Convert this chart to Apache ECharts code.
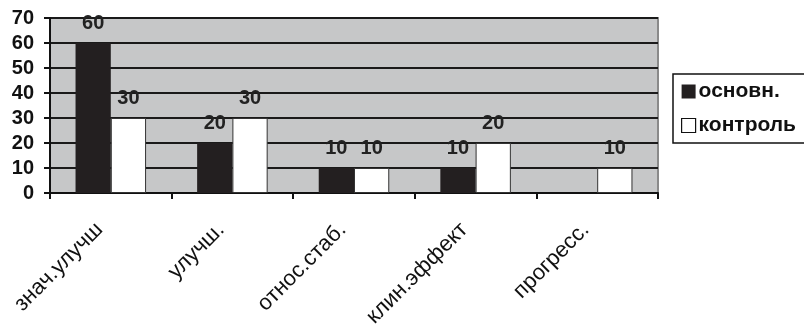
<!DOCTYPE html>
<html>
<head>
<meta charset="utf-8">
<script src="https://cdn.jsdelivr.net/npm/echarts@6/dist/echarts.min.js"></script>
<style>
  html, body { margin: 0; padding: 0; background: #ffffff; }
  #chart { width: 804px; height: 328px; }
</style>
</head>
<body>
<div id="chart"></div>
<script>
// Outcome categories and percentages per group
const categories = ['знач.улучш', 'улучш.', 'относ.стаб.', 'клин.эффект', 'прогресс.'];
const mainGroup = [60, 20, 10, 10, 0];
const controlGroup = [30, 30, 10, 20, 10];
const seriesNames = ['основн.', 'контроль'];

const font = '"Liberation Sans", Arial, sans-serif';

const valueLabel = {
  show: true,
  position: 'top',
  distance: 10,
  fontFamily: font,
  fontSize: 20,
  fontWeight: 'bold',
  color: '#222',
  formatter: p => (p.value ? String(p.value) : '')
};

const chart = echarts.init(document.getElementById('chart'));
chart.setOption({
  animation: false,
  backgroundColor: '#ffffff',
  grid: {
    left: 50, right: 146, top: 18, bottom: 135,
    outerBoundsMode: 'none',
    containLabel: false,
    show: true,
    backgroundColor: '#c6c7c8',
    borderColor: '#8a8a8a',
    borderWidth: 2
  },
  legend: {
    left: 673, top: 74,
    orient: 'vertical',
    itemWidth: 14, itemHeight: 14, itemGap: 13,
    padding: [7, 40, 7, 8],
    borderColor: '#111', borderWidth: 1.5,
    backgroundColor: '#ffffff',
    textStyle: { fontFamily: font, fontSize: 21, fontWeight: 'bold', color: '#111', padding: [0, 0, 0, -2] },
    data: [
      { name: seriesNames[0], icon: 'rect', itemStyle: { color: '#231f20' } },
      { name: seriesNames[1], icon: 'rect', itemStyle: { color: '#ffffff', borderColor: '#111', borderWidth: 1.2 } }
    ]
  },
  xAxis: {
    type: 'category',
    data: categories,
    boundaryGap: true,
    axisLine: { lineStyle: { color: '#111', width: 2 } },
    axisTick: { show: true, length: 6, alignWithLabel: false, lineStyle: { color: '#111', width: 2 } },
    axisLabel: {
      rotate: 45,
      margin: 22,
      padding: [0, 16, 0, 0],
      fontFamily: font,
      fontSize: 22,
      color: '#111'
    }
  },
  yAxis: {
    type: 'value',
    min: 0, max: 70, interval: 10,
    axisLine: { show: true, lineStyle: { color: '#111', width: 2 } },
    axisTick: { show: true, length: 6, lineStyle: { color: '#111', width: 2 } },
    axisLabel: { fontFamily: font, fontSize: 20, fontWeight: 'bold', color: '#111', margin: 16 },
    splitLine: { show: true, lineStyle: { color: '#1a1a1a', width: 2 } }
  },
  series: [
    {
      name: seriesNames[0],
      type: 'bar',
      data: mainGroup,
      barGap: '0%',
      barCategoryGap: '42%',
      itemStyle: { color: '#231f20' },
      label: valueLabel
    },
    {
      name: seriesNames[1],
      type: 'bar',
      data: controlGroup,
      itemStyle: { color: '#ffffff', borderColor: '#333', borderWidth: 1 },
      label: valueLabel
    }
  ]
});
</script>
</body>
</html>
